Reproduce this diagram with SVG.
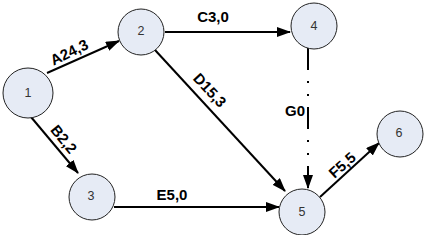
<svg xmlns="http://www.w3.org/2000/svg" width="425" height="235" viewBox="0 0 425 235">
<defs>
<style>
.node{fill:#e6ebf5;stroke:#222;stroke-width:1}
.num{font-family:"Liberation Sans",Arial,sans-serif;font-size:12.5px;fill:#333;text-anchor:middle;dominant-baseline:central}
.edge{stroke:#000;stroke-width:2;fill:none}
.lbl{font-family:"Liberation Sans",Arial,sans-serif;font-size:15px;font-weight:bold;fill:#000;text-anchor:middle;dominant-baseline:central}
</style>
<marker id="arr" markerUnits="userSpaceOnUse" markerWidth="14" markerHeight="10" refX="13" refY="5" orient="auto">
<path d="M0,0 L14,5 L0,10 Z" fill="#000"/>
</marker>
</defs>
<rect width="425" height="235" fill="#fff"/>
<g id="connectors">
<line class="edge" x1="47" y1="73" x2="119" y2="41" marker-end="url(#arr)"/>
<line class="edge" x1="31" y1="117" x2="78" y2="173" marker-end="url(#arr)"/>
<line class="edge" x1="165" y1="32" x2="290" y2="32" marker-end="url(#arr)"/>
<line class="edge" x1="155" y1="50" x2="285" y2="191" marker-end="url(#arr)"/>
<line class="edge" x1="308" y1="48" x2="308" y2="188" stroke-dasharray="22 11 2 11 2 11" marker-end="url(#arr)"/>
<line class="edge" x1="114" y1="207" x2="279" y2="207" marker-end="url(#arr)"/>
<line class="edge" x1="320" y1="197" x2="379" y2="143" marker-end="url(#arr)"/>
<text class="lbl" transform="translate(69,52) rotate(-26)">A24,3</text>
<text class="lbl" transform="translate(64,139) rotate(51)">B2,2</text>
<text class="lbl" x="213" y="16">C3,0</text>
<text class="lbl" transform="translate(210,90) rotate(47)">D15,3</text>
<text class="lbl" x="295" y="110">G0</text>
<text class="lbl" x="172" y="194">E5,0</text>
<text class="lbl" transform="translate(342,165) rotate(-42)">F5,5</text>
</g>
<g id="node1"><circle class="node" cx="28" cy="93" r="25"/><text class="num" x="28" y="93">1</text></g>
<g id="node2"><circle class="node" cx="141" cy="32" r="23"/><text class="num" x="141" y="31">2</text></g>
<g id="node3"><circle class="node" cx="92" cy="197" r="23"/><text class="num" x="91" y="196">3</text></g>
<g id="node4"><circle class="node" cx="314" cy="26" r="23"/><text class="num" x="314" y="26">4</text></g>
<g id="node5"><circle class="node" cx="302" cy="212" r="23"/><text class="num" x="302" y="212">5</text></g>
<g id="node6"><circle class="node" cx="400" cy="134" r="23"/><text class="num" x="399" y="133">6</text></g>
</svg>
